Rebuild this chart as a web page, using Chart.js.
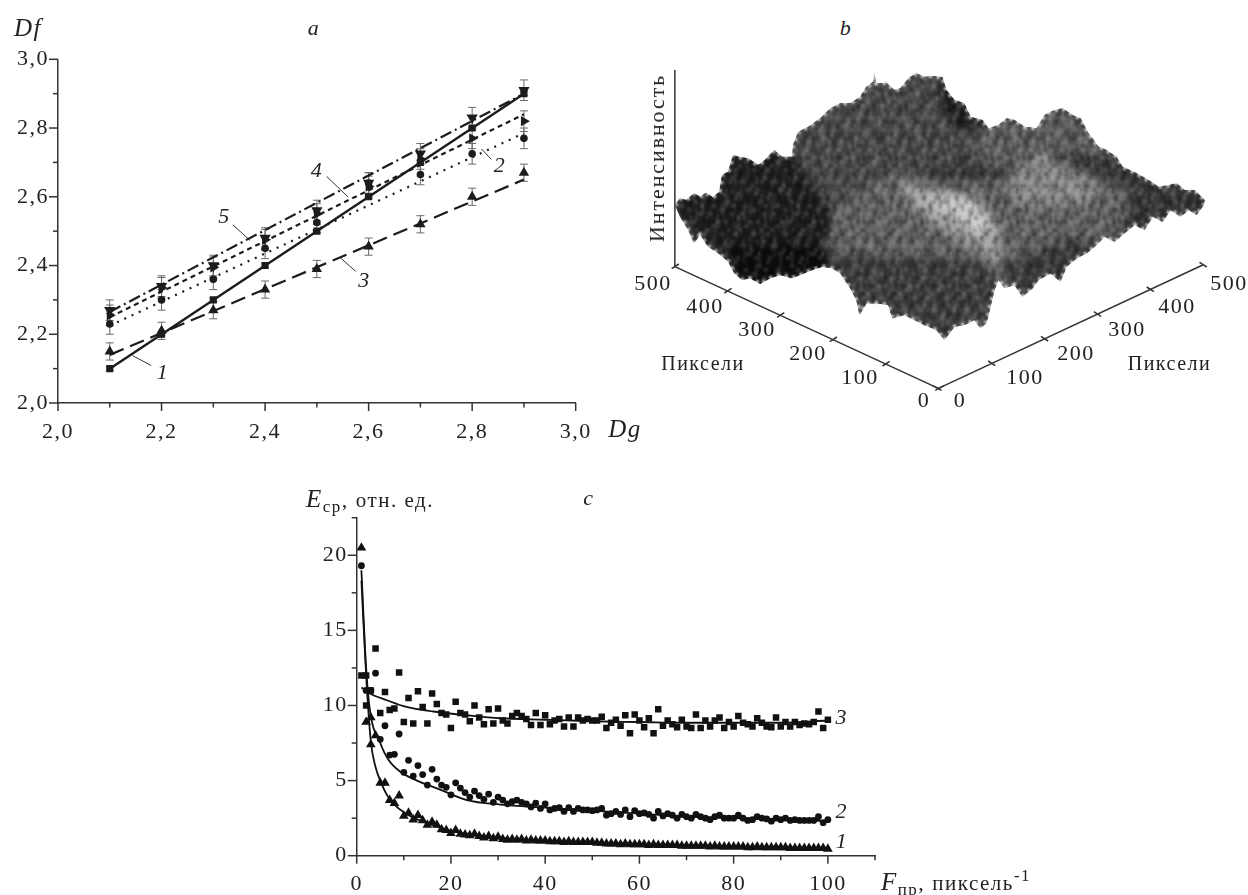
<!DOCTYPE html>
<html>
<head>
<meta charset="utf-8">
<script src="https://cdn.jsdelivr.net/npm/chart.js@4/dist/chart.umd.min.js"></script>
<style>
  html, body { margin: 0; padding: 0; background: #fff; width: 1248px; height: 895px; overflow: hidden; }
  canvas { position: absolute; }
  .lbl { position: absolute; transform: translate(-50%, -50%); white-space: nowrap; color: #222;
         font-family: "Liberation Serif", serif; font-size: 22px; letter-spacing: 1.5px; line-height: 1; }
  .it { font-style: italic; }
  sub, sup { font-size: 17px; line-height: 0; }
  .sm { font-size: 21px; }
</style>
</head>
<body>
<canvas id="chartA" width="620" height="450" style="left:0;top:0"></canvas>
<canvas id="chartB" width="628" height="400" style="left:620px;top:40px"></canvas>
<canvas id="chartC" width="600" height="395" style="left:300px;top:500px"></canvas>
<script>
// panel a
const dgValues = [2.1, 2.2, 2.3, 2.4, 2.5, 2.6, 2.7, 2.8, 2.9];
const dfSeries1 = [2.10, 2.20, 2.30, 2.40, 2.50, 2.60, 2.70, 2.80, 2.90];
const dfSeries2 = [2.23, 2.30, 2.36, 2.45, 2.525, 2.64, 2.665, 2.725, 2.77];
const dfSeries3 = [2.15, 2.21, 2.27, 2.33, 2.39, 2.455, 2.52, 2.60, 2.67];
const dfSeries4 = [2.255, 2.335, 2.395, 2.475, 2.55, 2.63, 2.71, 2.77, 2.82];
const dfSeries5 = [2.27, 2.34, 2.40, 2.48, 2.56, 2.64, 2.725, 2.83, 2.91];
const dfErrors = [0.005, 0.03, 0.025, 0.03, 0.03];
const fitEndsX = [2.1, 2.9];
const fit1 = [2.10, 2.90];
const fit2 = [2.225, 2.785];
const fit3 = [2.14, 2.65];
const fit4 = [2.25, 2.84];
const fit5 = [2.265, 2.90];
const leaderX = [[2.144, 2.18], [2.818, 2.837], [2.546, 2.575], [2.519, 2.56], [2.338, 2.371]];
const leaderY = [[2.138, 2.109], [2.739, 2.709], [2.422, 2.383], [2.659, 2.60], [2.518, 2.473]];
const aTicks = [2.0, 2.1, 2.2, 2.3, 2.4, 2.5, 2.6, 2.7, 2.8, 2.9, 3.0];
const aLabels = { 2.0: '2,0', 2.2: '2,2', 2.4: '2,4', 2.6: '2,6', 2.8: '2,8', 3.0: '3,0' };

// panel b, outline and tone patches
const ridgeOutline = [[137,495],[150,475],[165,480],[185,460],[200,470],[215,458],[232,472],[248,455],[255,405],[270,395],[282,345],[300,352],[320,355],[345,375],[362,360],[385,330],[405,350],[430,350],[432,315],[445,275],[470,260],[500,235],[525,205],[550,190],[575,190],[600,170],[615,140],[632,125],[635,100],[640,130],[665,128],[685,150],[700,145],[720,115],[740,100],[760,110],[785,108],[805,112],[815,150],[835,180],[860,190],[875,230],[905,240],[920,265],[945,255],[965,235],[985,240],[1010,260],[1040,265],[1060,225],[1080,212],[1105,205],[1130,225],[1150,235],[1170,280],[1195,320],[1215,330],[1240,350],[1255,380],[1290,400],[1320,420],[1345,440],[1370,435],[1390,430],[1410,450],[1435,450],[1460,480],[1458,495],[1440,525],[1420,510],[1400,530],[1375,510],[1355,545],[1330,530],[1310,570],[1285,555],[1260,580],[1235,605],[1210,590],[1190,615],[1165,640],[1140,655],[1115,680],[1100,725],[1075,700],[1045,720],[1030,745],[1005,770],[985,735],[960,745],[945,720],[935,750],[925,800],[915,850],[900,865],[885,840],[860,855],[835,860],[810,900],[790,870],[760,855],[735,840],[710,825],[680,835],[670,795],[640,790],[615,790],[598,825],[590,780],[575,745],[550,700],[530,685],[505,680],[480,690],[460,700],[430,715],[400,705],[375,715],[350,732],[325,715],[305,720],[285,700],[270,665],[245,640],[220,620],[200,585],[185,610],[170,570],[150,530]];
const patchBack = [[430,350],[445,275],[525,205],[635,100],[740,100],[805,112],[875,230],[880,300],[850,380],[700,385],[620,430],[520,500]];
const patchBackDark = [[805,112],[860,190],[920,265],[880,290],[830,260],[790,170]];
const patchBackRight = [[860,280],[945,255],[1060,225],[1105,205],[1170,280],[1240,350],[1100,340],[1000,390],[900,380]];
const patchRightDark = [[1240,350],[1345,440],[1460,480],[1440,525],[1310,570],[1235,605],[1290,470]];
const patchFront = [[520,500],[620,430],[700,385],[800,420],[950,420],[1050,330],[1180,400],[1280,460],[1235,605],[1100,725],[1005,770],[935,750],[915,850],[810,900],[680,835],[598,825],[530,685],[510,600]];
const patchFrontDark = [[530,685],[598,825],[680,835],[810,900],[915,850],[945,720],[900,670],[800,650],[650,650],[560,630]];
const patchRightLow = [[950,680],[1100,600],[1235,605],[1100,725],[1005,770]];
const patchHump = [[700,420],[800,455],[890,480],[950,560],[950,680],[880,620],[790,560],[710,480]];
const patchHumpLight = [[750,480],[820,460],[890,480],[930,560],[900,590],[830,530]];
const patchHumpRight = [[960,430],[1050,330],[1100,380],[1180,420],[1200,480],[1100,500],[1000,500]];
const patchLeftDark = [[137,495],[282,345],[385,330],[430,350],[520,500],[530,570],[510,600],[430,600],[400,620],[500,640],[530,685],[430,715],[350,732],[305,720],[270,665],[200,585],[150,530]];
const patchLeftDeep = [[270,620],[500,600],[530,685],[350,732],[285,700]];
const surfaceTile = [
  '..d..l..dd...l..',
  '.dd.ll..d...dl.d',
  'l.d.l..dd.l.d...',
  'l...d.l.d.l...d.',
  '.dl.d.l...dd.l.d',
  '.d..dl..l..d.l..',
  'd..l.d..l.d..d.l',
  'd.ll...d..dl.d..',
  '..l.dd.d.l.l...d',
  'l...d..l.l..dd.d',
  'l.d.d.ll.d...d..',
  '.dd...l..dd.l..l',
  '.d.l.d..d..l.d.l',
  '..ll.d.dd..l.d..',
  'd..l..dd.l...dl.',
  'dd...l.d.l.d..l.'
];
const bTicks = [100, 200, 300, 400, 500];
const axisOrigin = [795, 1045];
const axisLeftEnd = [137, 680];
const axisRightEnd = [1455, 675];
const axisTop = [137, 90];

// panel c
const fsp = Array.from({ length: 100 }, (_, i) => i + 1);
const eSeries1 = [
  20.5,8.9,9.2,8,4.85,4.85,3.7,3.5,4,2.65,
  2.85,2.4,2.7,2.35,2.05,2.25,2.05,1.75,1.7,1.5,
  1.7,1.45,1.4,1.35,1.45,1.3,1.2,1.3,1.15,1.25,
  1.1,1.05,1.1,1.05,1.1,1,1.05,1,1,1,
  .95,.95,.95,.9,.95,.9,.9,.9,.9,.9,
  .85,.85,.8,.8,.8,.75,.8,.75,.75,.75,
  .75,.7,.75,.7,.7,.7,.7,.7,.65,.65,
  .65,.65,.65,.65,.6,.65,.6,.6,.6,.6,
  .6,.6,.55,.55,.6,.55,.55,.55,.55,.55,
  .55,.5,.5,.5,.5,.5,.5,.5,.5,.45];
const eSeries2 = [
  19.3,11,11,12.15,7.75,8.65,6.7,6.75,8.1,5.55,
  6.35,5.3,6,5.4,4.7,5.75,5.1,4.7,4.55,4.05,
  4.85,4.5,4.2,3.9,4.3,4,3.75,4.1,3.55,3.9,
  3.7,3.45,3.6,3.7,3.55,3.45,3.25,3.5,3.15,3.45,
  3.05,3.15,3.2,2.95,3.2,2.95,3.15,3.05,3.05,3,
  3.05,3.15,2.7,2.8,2.95,2.75,3.05,2.6,3,2.8,
  2.85,2.75,2.5,2.95,2.65,2.8,2.7,2.5,2.75,2.6,
  2.5,2.75,2.6,2.5,2.4,2.6,2.7,2.5,2.5,2.5,
  2.7,2.5,2.35,2.4,2.6,2.5,2.45,2.3,2.5,2.4,
  2.5,2.35,2.4,2.35,2.35,2.35,2.35,2.6,2.2,2.4];
const eSeries3 = [
  12,10,11,13.8,9.5,10.9,9.7,9.8,12.2,8.9,
  10.5,8.8,10.95,9.9,8.8,10.8,10.1,9.5,9.4,8.5,
  10.25,9.5,9.4,8.95,10,9.2,8.75,9.75,8.8,9.8,
  9,8.8,9.3,9.5,9.3,9.1,8.7,9.5,8.7,9.35,
  8.75,9,9.1,8.6,9.2,8.6,9.2,9,9.1,9,
  9,9.25,8.5,8.85,9.05,8.65,9.35,8.15,9.4,9,
  8.55,9.15,8.15,9.75,8.65,9,8.75,8.55,9.05,8.6,
  8.5,9.4,8.5,9,8.6,9,9.2,8.5,8.9,8.6,
  9.3,8.85,8.75,8.6,9.15,8.85,8.6,8.55,9.2,8.6,
  8.9,8.6,8.9,8.7,8.8,8.75,8.9,9.6,8.5,9.05];
const extraTriangleX = [3], extraTriangleY = [7.4];
const extraSquareX = [2], extraSquareY = [12];
const curve1X = [1, 2, 3, 4, 5, 6.5, 8, 10, 13, 16, 20, 25, 30, 40, 60, 80, 100];
const curve1Y = [18.3, 12, 7.6, 5.9, 5, 4, 3.4, 2.9, 2.4, 2.05, 1.65, 1.4, 1.2, 0.98, 0.78, 0.62, 0.5];
const curve2X = [1, 2, 2.8, 5, 6.7, 9.2, 12.8, 17.7, 23.4, 30.5, 40, 50, 60, 70, 80, 90, 100];
const curve2Y = [19, 12.5, 9.7, 7.5, 6.4, 5.6, 5, 4.4, 3.7, 3.4, 3.2, 3, 2.8, 2.6, 2.5, 2.4, 2.3];
const curve3X = [1, 2.8, 6.4, 10.6, 16.3, 23.4, 30.5, 40, 50, 60, 70, 80, 90, 100];
const curve3Y = [11.2, 10.8, 10.35, 9.9, 9.6, 9.35, 9.15, 9.05, 8.95, 8.9, 8.85, 8.85, 8.85, 9];
const cTicksX = [0, 10, 20, 30, 40, 50, 60, 70, 80, 90, 100, 110];
const cLabelsX = { 0: '0', 20: '20', 40: '40', 60: '60', 80: '80', 100: '100' };
const cTicksY = [0, 2.5, 5, 7.5, 10, 12.5, 15, 17.5, 20, 22.5];
const cLabelsY = { 0: '0', 5: '5', 10: '10', 15: '15', 20: '20' };

const INK = '#1c1c1c';
const AXIS = '#333';
const SERIF = '"Liberation Serif", serif';

// tick marks by hand because chart.js has no minor tick length
const minorTicks = {
  id: 'minorTicks',
  beforeDraw(chart) { chart.ctx.letterSpacing = '1.5px'; },
  afterDraw(chart) {
    const ctx = chart.ctx;
    ctx.save();
    ctx.strokeStyle = AXIS;
    ctx.lineWidth = 1.5;
    const xs = chart.scales.x, ys = chart.scales.y;
    xs.ticks.forEach(t => {
      const px = xs.getPixelForValue(t.value);
      ctx.beginPath();
      ctx.moveTo(px, xs.top);
      ctx.lineTo(px, xs.top + (t.label ? 8 : 4.5));
      ctx.stroke();
    });
    ys.ticks.forEach(t => {
      const py = ys.getPixelForValue(t.value);
      ctx.beginPath();
      ctx.moveTo(ys.right, py);
      ctx.lineTo(ys.right - (t.label ? 9 : 5), py);
      ctx.stroke();
    });
    ctx.restore();
  }
};

const errorBars = {
  id: 'errorBars',
  beforeDatasetsDraw(chart) {
    const ctx = chart.ctx, xs = chart.scales.x, ys = chart.scales.y;
    ctx.save();
    ctx.strokeStyle = '#6a6a6a';
    ctx.lineWidth = 1;
    [dfSeries1, dfSeries2, dfSeries3, dfSeries4, dfSeries5].forEach((s, k) => {
      s.forEach((v, i) => {
        const x = xs.getPixelForValue(dgValues[i]);
        const hi = ys.getPixelForValue(v + dfErrors[k]), lo = ys.getPixelForValue(v - dfErrors[k]);
        ctx.beginPath();
        ctx.moveTo(x, hi); ctx.lineTo(x, lo);
        ctx.moveTo(x - 4, hi); ctx.lineTo(x + 4, hi);
        ctx.moveTo(x - 4, lo); ctx.lineTo(x + 4, lo);
        ctx.stroke();
      });
    });
    ctx.restore();
  }
};

function axisOpts(min, max, ticks, labels, pad, size) {
  return Object.assign({
    type: 'linear', min, max,
    afterBuildTicks: s => { s.ticks = ticks.map(v => ({ value: v })); },
    grid: { display: false, drawTicks: false },
    border: { color: AXIS, width: 1.5 },
    ticks: {
      autoSkip: false, maxRotation: 0, color: '#222', padding: pad,
      font: { family: SERIF, size: 22 },
      callback: v => labels[v] || ''
    }
  }, size);
}

function pts(xs, ys) { return xs.map((x, i) => ({ x, y: ys[i] })); }

function markerSet(ys, style, radius, rotation) {
  return { type: 'scatter', data: pts(dgValues, ys), pointStyle: style, pointRadius: radius, pointRotation: rotation || 0,
           pointBackgroundColor: INK, pointBorderWidth: 0, showLine: false };
}
function fitLine(ys, dash, width) {
  return { type: 'scatter', data: pts(fitEndsX, ys), showLine: true, borderColor: INK, borderWidth: width || 2.2,
           borderDash: dash, pointRadius: 0 };
}
function leaderLine(xs, ys) {
  return { type: 'scatter', data: pts(xs, ys), showLine: true, borderColor: '#333', borderWidth: 1, pointRadius: 0 };
}

new Chart(document.getElementById('chartA'), {
  type: 'scatter',
  data: {
    datasets: [
      markerSet(dfSeries1, 'rect', 5),
      markerSet(dfSeries2, 'circle', 3.8),
      markerSet(dfSeries3, 'triangle', 6),
      markerSet(dfSeries4, 'triangle', 6, 90),
      markerSet(dfSeries5, 'triangle', 6.5, 180),
      fitLine(fit1, [], 2.4),
      fitLine(fit2, [2, 6]),
      fitLine(fit3, [15, 7]),
      fitLine(fit4, [5, 4]),
      fitLine(fit5, [12, 4, 2, 4]),
      ...leaderX.map((lx, i) => leaderLine(lx, leaderY[i]))
    ]
  },
  options: {
    responsive: false, animation: false, devicePixelRatio: 1,
    layout: { padding: { top: 59.3, right: 44.3, left: 0, bottom: 0 } },
    plugins: { legend: { display: false }, tooltip: { enabled: false } },
    scales: {
      x: axisOpts(2, 3, aTicks, aLabels, 16, { afterFit: s => { s.height = 47; } }),
      y: axisOpts(2, 3, aTicks, aLabels, 9, { afterFit: s => { s.width = 58; } })
    }
  },
  plugins: [minorTicks, errorBars]
});

// speckle tiles for the surface, typed by hand above
function makeTile(cellW, cellH, alphaD, alphaL, flip) {
  const n = surfaceTile.length;
  const tile = document.createElement('canvas');
  tile.width = n * cellW; tile.height = n * cellH;
  const tctx = tile.getContext('2d');
  surfaceTile.forEach((row, r) => {
    [...row].forEach((c, k) => {
      if (c === '.') return;
      tctx.fillStyle = c === 'd' ? `rgba(0,0,0,${alphaD})` : `rgba(255,255,255,${alphaL})`;
      tctx.fillRect((flip ? r : k) * cellW, (flip ? k : r) * cellH, cellW, cellH);
    });
  });
  return tctx.createPattern(tile, 'repeat');
}
const speckleFine = makeTile(2, 4, 0.26, 0.12, true);
const speckleCoarse = makeTile(3, 7, 0.2, 0.09, false);

function poly(list, color) {
  return { data: list.map(p => ({ x: p[0], y: p[1] })), showLine: true, fill: 'shape', backgroundColor: color,
           borderWidth: 0, pointRadius: 0 };
}
function segment(a, b, width) {
  return { data: [{ x: a[0], y: a[1] }, { x: b[0], y: b[1] }], showLine: true, borderColor: AXIS, borderWidth: width, pointRadius: 0 };
}
function alongAxis(end, p) {
  return [axisOrigin[0] + (end[0] - axisOrigin[0]) * p / 500, axisOrigin[1] + (end[1] - axisOrigin[1]) * p / 500];
}

const patches = [
  poly(patchBack, '#4c4c4c'), poly(patchBackDark, '#222222'), poly(patchBackRight, '#626262'),
  poly(patchRightDark, '#383838'), poly(patchFront, '#666666'), poly(patchFrontDark, '#404040'),
  poly(patchRightLow, '#3c3c3c'), poly(patchHumpRight, '#8c8c8c'), poly(patchHump, '#a0a0a0'),
  poly(patchHumpLight, '#c8c8c8'), poly(patchLeftDark, '#202020'), poly(patchLeftDeep, '#0e0e0e')
];
const axesB = [segment(axisOrigin, axisLeftEnd, 1.5), segment(axisOrigin, axisRightEnd, 1.5), segment(axisLeftEnd, axisTop, 1.5)];
bTicks.forEach(p => {
  const l = alongAxis(axisLeftEnd, p), r = alongAxis(axisRightEnd, p);
  axesB.push(segment([l[0] - 8, l[1] + 6], [l[0] + 10, l[1] - 8], 1.5));
  axesB.push(segment([r[0] - 8, r[1] - 8], [r[0] + 10, r[1] + 6], 1.5));
});
axesB.push(segment([axisOrigin[0] - 8, axisOrigin[1] + 6], [axisOrigin[0] + 14, axisOrigin[1] - 8], 1.5));
axesB.push(segment([axisOrigin[0] - 14, axisOrigin[1] - 8], [axisOrigin[0] + 8, axisOrigin[1] + 6], 1.5));

// small white dashes along the outline give the serrated edge
const edgeTeeth = Object.assign(poly(ridgeOutline, 'rgba(0,0,0,0)'), { fill: false, borderColor: '#fff', borderWidth: 4, borderDash: [2.5, 5.5] });

// chart.js draws the highest index first: base, blurred patches, speckle, teeth, axes
const bDatasets = [
  ...axesB,
  edgeTeeth,
  poly(ridgeOutline, speckleFine),
  poly(ridgeOutline, speckleCoarse),
  ...patches.slice().reverse(),
  poly(ridgeOutline, '#3a3a3a')
];
const baseIndex = bDatasets.length - 1;
const softPatches = {
  id: 'softPatches',
  afterDatasetDraw(chart, args) {
    const ctx = chart.ctx;
    if (args.index === baseIndex) {
      const xs = chart.scales.x, ys = chart.scales.y;
      ctx.save();
      ctx.beginPath();
      ridgeOutline.forEach((p, i) => {
        const px = xs.getPixelForValue(p[0]), py = ys.getPixelForValue(p[1]);
        if (i) ctx.lineTo(px, py); else ctx.moveTo(px, py);
      });
      ctx.closePath();
      ctx.clip();
      ctx.filter = 'blur(4px)';
    }
    if (args.index === baseIndex - patches.length) {
      ctx.restore();
      ctx.filter = 'blur(0.8px)';
    }
    if (args.index === axesB.length) ctx.filter = 'none';
  }
};
new Chart(document.getElementById('chartB'), {
  type: 'scatter',
  data: { datasets: bDatasets },
  options: {
    responsive: false, animation: false, devicePixelRatio: 1,
    layout: { padding: 0 },
    plugins: { legend: { display: false }, tooltip: { enabled: false } },
    scales: {
      x: { type: 'linear', min: 0, max: 1568, display: false },
      y: { type: 'linear', min: 0, max: 1200, reverse: true, display: false }
    }
  },
  plugins: [softPatches]
});

function cMarkers(xs, ys, style, radius) {
  return { data: pts(xs, ys), pointStyle: style, pointRadius: radius, pointBackgroundColor: '#111', pointBorderWidth: 0, showLine: false };
}
function cCurve(xs, ys) {
  return { data: pts(xs, ys), showLine: true, borderColor: '#111', borderWidth: 1.8, pointRadius: 0, cubicInterpolationMode: 'monotone' };
}
new Chart(document.getElementById('chartC'), {
  type: 'scatter',
  data: {
    datasets: [
      cMarkers(fsp, eSeries1, 'triangle', 5.6),
      cMarkers(extraTriangleX, extraTriangleY, 'triangle', 5.6),
      cMarkers(fsp, eSeries2, 'circle', 3.4),
      cMarkers(fsp, eSeries3, 'rect', 4.6),
      cMarkers(extraSquareX, extraSquareY, 'rect', 4.6),
      cCurve(curve1X, curve1Y),
      cCurve(curve2X, curve2Y),
      cCurve(curve3X, curve3Y)
    ]
  },
  options: {
    responsive: false, animation: false, devicePixelRatio: 1,
    layout: { padding: { top: 17.7, right: 25, left: 0, bottom: 0 } },
    plugins: { legend: { display: false }, tooltip: { enabled: false } },
    scales: {
      x: axisOpts(0, 110, cTicksX, cLabelsX, 15, { afterFit: s => { s.height = 39.3; } }),
      y: axisOpts(0, 22.5, cTicksY, cLabelsY, 9, { afterFit: s => { s.width = 56.7; s.paddingTop = 0; s.paddingBottom = 0; } })
    }
  },
  plugins: [minorTicks]
});

// text that sits outside the axes
function label(html, x, y, cls, css) {
  const el = document.createElement('div');
  el.className = 'lbl ' + (cls || '');
  el.innerHTML = html;
  el.style.left = x + 'px';
  el.style.top = y + 'px';
  if (css) el.style.cssText += css;
  document.body.appendChild(el);
}
label('Df', 28, 27, 'it', 'font-size:25px');
label('a', 314, 28, 'it');
label('Dg', 625, 428, 'it', 'font-size:25px');
label('b', 846, 28, 'it');
label('c', 589, 498, 'it');
label('1', 163, 372, 'it');
label('2', 500, 165, 'it');
label('3', 364.5, 280, 'it');
label('4', 317, 170, 'it');
label('5', 224.5, 216, 'it');
label('<i style="font-size:25px">E</i><sub>ср</sub>, <span class="sm">отн. ед.</span>', 370, 498);
label('<i style="font-size:25px">F</i><sub>пр</sub>, <span class="sm">пиксель</span><sup>-1</sup>', 956, 881);
label('3', 841.7, 717, 'it');
label('2', 841.7, 811, 'it');
label('1', 842, 841, 'it');
[['500', 653, 283], ['400', 705, 306], ['300', 757, 329], ['200', 808, 353], ['100', 860, 377], ['0', 924, 400],
 ['0', 960, 400], ['100', 1025, 377], ['200', 1076, 353], ['300', 1127, 329], ['400', 1177, 306], ['500', 1229, 283]]
  .forEach(t => label(t[0], t[1], t[2]));
label('Пиксели', 703, 363, '', 'font-size:20px');
label('Пиксели', 1169.5, 363, '', 'font-size:20px');
label('Интенсивность', 657, 158, '', 'font-size:22px;letter-spacing:1.9px;transform:translate(-50%,-50%) rotate(-90deg)');
</script>
</body>
</html>
